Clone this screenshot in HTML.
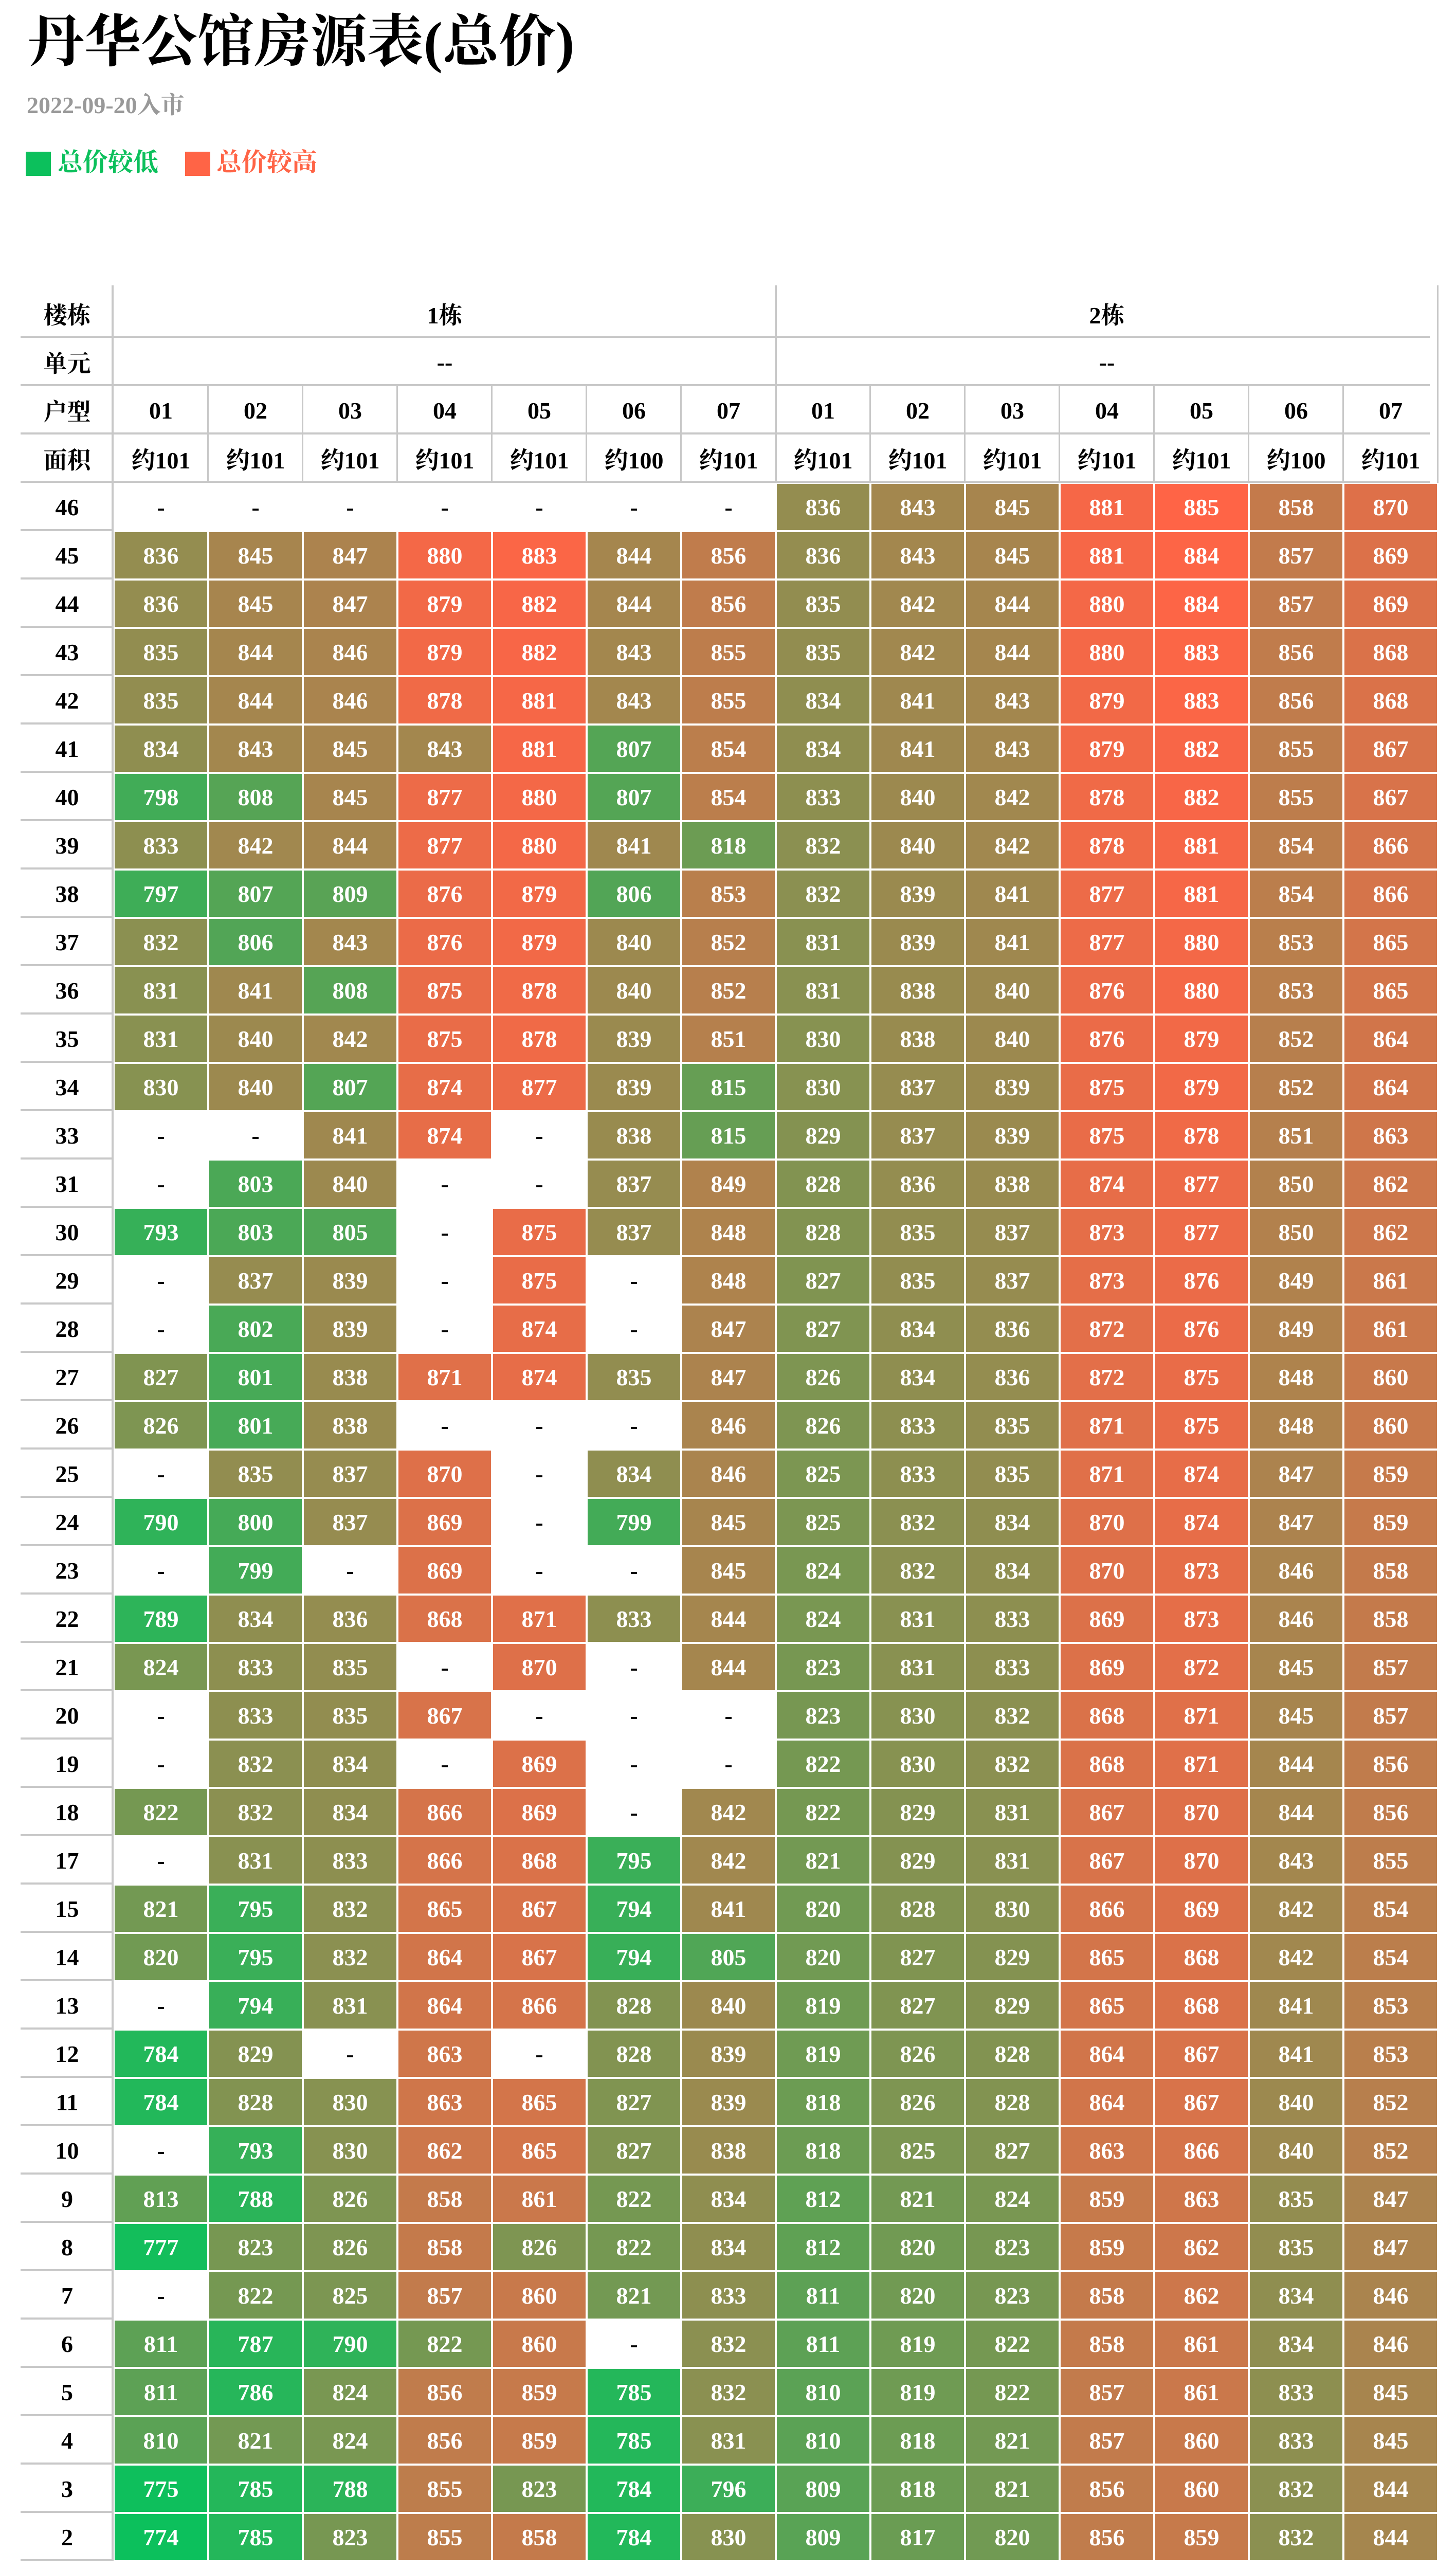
<!DOCTYPE html>
<html><head><meta charset="utf-8">
<style>
html,body{margin:0;padding:0;width:2832px;height:5044px;overflow:hidden;background:#fff;}
#page{position:relative;width:2832px;height:5044px;overflow:hidden;background:#fff;font-family:"Liberation Serif","Noto Serif CJK SC",serif;}
.abs{position:absolute;}
#title{left:54px;top:12px;font-size:110px;font-weight:bold;color:#000;line-height:140px;white-space:nowrap;}
#sub{left:52px;top:168px;font-size:46px;font-weight:bold;color:#999;white-space:nowrap;}
.lg{top:295px;width:49px;height:47px;}
.lgt{top:286px;font-size:49px;font-weight:bold;white-space:nowrap;line-height:60px;}
.c{position:absolute;display:flex;align-items:center;justify-content:center;font-weight:bold;font-size:46px;box-sizing:border-box;}
.d{color:#fff;}
.h{color:#000;}
.hl{position:absolute;background:#c8c8c8;}
#foot{left:45px;top:5012px;font-size:46px;line-height:46px;color:#999;white-space:nowrap;}
</style></head>
<body>
<div id="page">
<div class="abs" id="title">丹华公馆房源表(总价)</div>
<div class="abs" id="sub">2022-09-20入市</div>
<div class="abs lg" style="left:50px;background:#0cc05c"></div>
<div class="abs lgt" style="left:112px;color:#0cc05c">总价较低</div>
<div class="abs lg" style="left:360px;background:#ff6446"></div>
<div class="abs lgt" style="left:421px;color:#ff6446">总价较高</div>
<div id="grid"></div>
<div class="abs" id="foot">房源最新变更时间：2024-07-18 05:31:03</div>
</div>
<script>
const floors=[46,45,44,43,42,41,40,39,38,37,36,35,34,33,31,30,29,28,27,26,25,24,23,22,21,20,19,18,17,15,14,13,12,11,10,9,8,7,6,5,4,3,2];
const buildings=["1栋","2栋"];
const units=["01","02","03","04","05","06","07"];
const areas=["约101","约101","约101","约101","约101","约100","约101","约101","约101","约101","约101","约101","约100","约101"];
const prices=[
"- - - - - - - 836 843 845 881 885 858 870",
"836 845 847 880 883 844 856 836 843 845 881 884 857 869",
"836 845 847 879 882 844 856 835 842 844 880 884 857 869",
"835 844 846 879 882 843 855 835 842 844 880 883 856 868",
"835 844 846 878 881 843 855 834 841 843 879 883 856 868",
"834 843 845 843 881 807 854 834 841 843 879 882 855 867",
"798 808 845 877 880 807 854 833 840 842 878 882 855 867",
"833 842 844 877 880 841 818 832 840 842 878 881 854 866",
"797 807 809 876 879 806 853 832 839 841 877 881 854 866",
"832 806 843 876 879 840 852 831 839 841 877 880 853 865",
"831 841 808 875 878 840 852 831 838 840 876 880 853 865",
"831 840 842 875 878 839 851 830 838 840 876 879 852 864",
"830 840 807 874 877 839 815 830 837 839 875 879 852 864",
"- - 841 874 - 838 815 829 837 839 875 878 851 863",
"- 803 840 - - 837 849 828 836 838 874 877 850 862",
"793 803 805 - 875 837 848 828 835 837 873 877 850 862",
"- 837 839 - 875 - 848 827 835 837 873 876 849 861",
"- 802 839 - 874 - 847 827 834 836 872 876 849 861",
"827 801 838 871 874 835 847 826 834 836 872 875 848 860",
"826 801 838 - - - 846 826 833 835 871 875 848 860",
"- 835 837 870 - 834 846 825 833 835 871 874 847 859",
"790 800 837 869 - 799 845 825 832 834 870 874 847 859",
"- 799 - 869 - - 845 824 832 834 870 873 846 858",
"789 834 836 868 871 833 844 824 831 833 869 873 846 858",
"824 833 835 - 870 - 844 823 831 833 869 872 845 857",
"- 833 835 867 - - - 823 830 832 868 871 845 857",
"- 832 834 - 869 - - 822 830 832 868 871 844 856",
"822 832 834 866 869 - 842 822 829 831 867 870 844 856",
"- 831 833 866 868 795 842 821 829 831 867 870 843 855",
"821 795 832 865 867 794 841 820 828 830 866 869 842 854",
"820 795 832 864 867 794 805 820 827 829 865 868 842 854",
"- 794 831 864 866 828 840 819 827 829 865 868 841 853",
"784 829 - 863 - 828 839 819 826 828 864 867 841 853",
"784 828 830 863 865 827 839 818 826 828 864 867 840 852",
"- 793 830 862 865 827 838 818 825 827 863 866 840 852",
"813 788 826 858 861 822 834 812 821 824 859 863 835 847",
"777 823 826 858 826 822 834 812 820 823 859 862 835 847",
"- 822 825 857 860 821 833 811 820 823 858 862 834 846",
"811 787 790 822 860 - 832 811 819 822 858 861 834 846",
"811 786 824 856 859 785 832 810 819 822 857 861 833 845",
"810 821 824 856 859 785 831 810 818 821 857 860 833 845",
"775 785 788 855 823 784 796 809 818 821 856 860 832 844",
"774 785 823 855 858 784 830 809 817 820 856 859 832 844"
];
const L=40,LW=181,CW=184,T=563,RH=94;
const g=document.getElementById('grid');
function colX(i){return L+LW+i*CW;}
function rowY(i){return T+i*RH;}
function cell(x,y,w,h,txt,cls,name){
  const d=document.createElement('div');
  d.className='c '+cls;
  d.style.left=x+'px';d.style.top=y+'px';d.style.width=w+'px';d.style.height=h+'px';
  d.textContent=txt;
  
  
  g.appendChild(d);return d;
}
function line(x,y,w,h){
  const d=document.createElement('div');d.className='hl';
  d.style.left=x+'px';d.style.top=y+'px';d.style.width=w+'px';d.style.height=h+'px';
  
  
  g.appendChild(d);
}
const vals=prices.map(r=>r.split(' ').map(v=>v==='-'?null:+v));
let all=[];vals.forEach(r=>r.forEach(v=>{if(v!==null)all.push(v);}));
const mn=Math.min(...all),mx=Math.max(...all);
function color(v){const t=(v-mn)/(mx-mn);
  const a=[12,192,92],b=[255,100,70];
  return 'rgb('+a.map((c,i)=>Math.round(c+(b[i]-c)*t)).join(',')+')';}
const hl=["楼栋","单元","户型","面积"];
hl.forEach((t,i)=>cell(L,rowY(i),LW,RH,t,'h','header-'+i));
buildings.forEach((b,j)=>{
  cell(colX(j*7),rowY(0),CW*7,RH,b,'h','building-'+(j+1));
  cell(colX(j*7),rowY(1),CW*7,RH,'--','h','unit-'+(j+1));
});
for(let i=0;i<14;i++){
  cell(colX(i),rowY(2),CW,RH,units[i%7],'h','room-type-'+i);
  cell(colX(i),rowY(3),CW,RH,areas[i],'h','area-'+i);
}
const HR=L+LW+14*CW;
for(let i=1;i<=4;i++) line(L,rowY(i)-4,HR-L-16,4);
line(L+LW-4,T-8,4,RH*4+8);
line(colX(7)-2,T-8,4,RH*4+8);
line(HR-2,T-8,3,RH*4+8);
for(let i=1;i<14;i++){ if(i!==7) line(colX(i)-2,rowY(2),3,RH*2); }
floors.forEach((f,r)=>{
  const y=rowY(4+r);
  cell(L,y,LW,RH,String(f),'h','floor-'+f);
  line(L,y+RH-4,LW,4);
  vals[r].forEach((v,i)=>{
    if(v===null){cell(colX(i),y,CW,RH,'-','h','empty-cell');}
    else{const d=cell(colX(i)+2,y+2,CW-4,RH-4,String(v),'d','price-cell');d.style.background=color(v);}
  });
});
line(L+LW-4,rowY(4),4,RH*floors.length);
</script>
</body></html>
